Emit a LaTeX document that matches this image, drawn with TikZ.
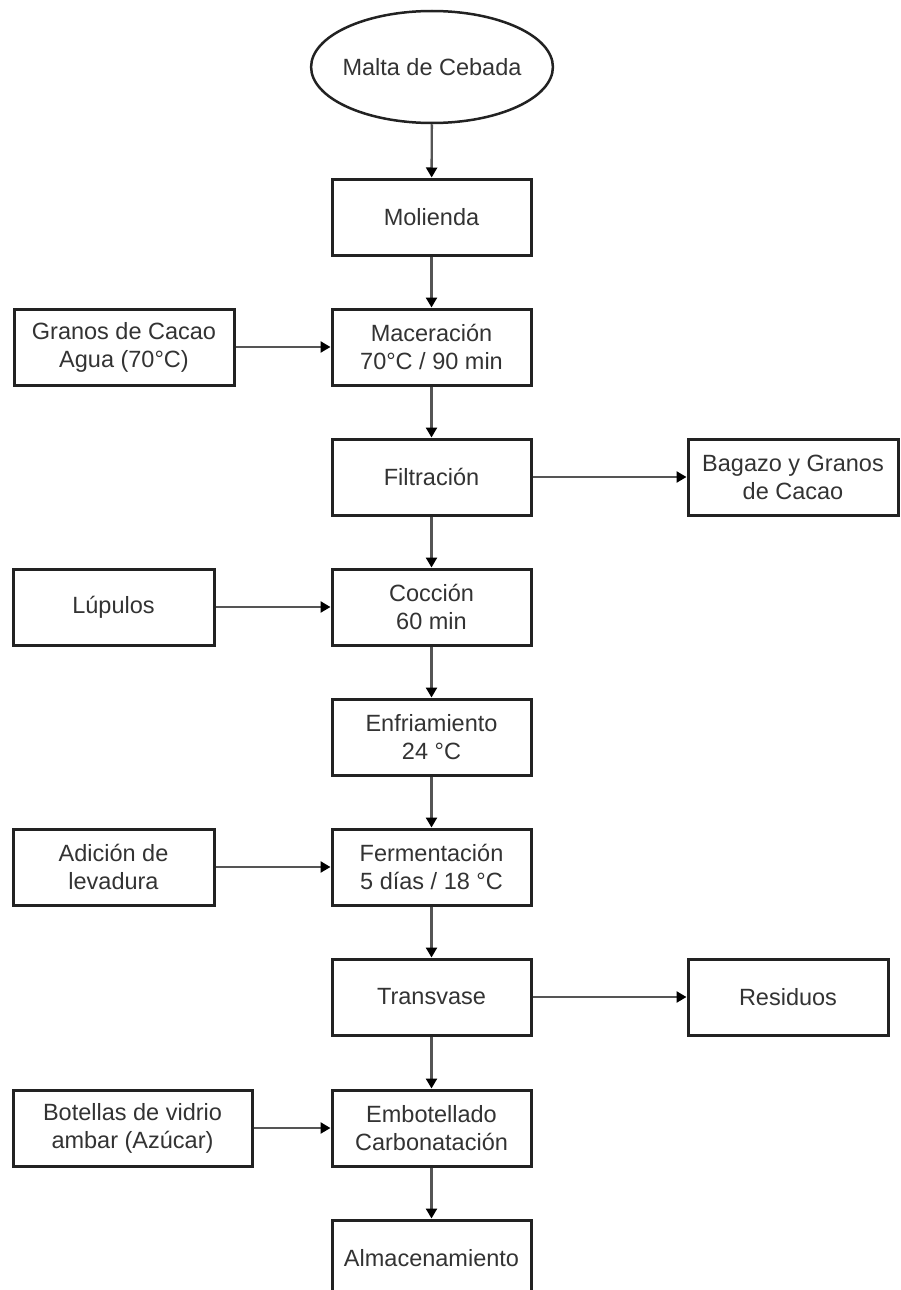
\documentclass[tikz,border=0pt]{standalone}
\usepackage{fontspec}
\setmainfont{Liberation Sans}
\usetikzlibrary{arrows.meta,shapes.geometric}
\definecolor{boxline}{HTML}{222222}
\definecolor{conn}{HTML}{555555}
\definecolor{txt}{HTML}{333333}
\begin{document}
\begin{tikzpicture}[x=1pt,y=-1pt,
  every node/.style={font=\fontsize{23.5}{28}\selectfont, text=txt, align=center, inner sep=0pt},
  proc/.style={draw=boxline, line width=3pt, rectangle, minimum height=76pt},
  mainbox/.style={proc, minimum width=199pt},
  startnode/.style={draw=boxline, line width=2.5pt, ellipse, inner xsep=-4pt, minimum width=238pt, minimum height=112pt},
  conn/.style={draw=conn, line width=2.4pt, -{Triangle[length=10pt,width=11pt,color=black]}}
]
\useasboundingbox (0,0) rectangle (900,1290);
\fill[white] (0,0) rectangle (900,1290);

\node[startnode] (malta) at (432,67) {Malta de Cebada};
\node[mainbox] (molienda) at (431.5,217) {Molienda};
\node[mainbox] (maceracion) at (431.5,347) {Maceración\\70°C / 90 min};
\node[mainbox] (filtracion) at (431.5,477) {Filtración};
\node[mainbox] (coccion) at (431.5,607) {Cocción\\60 min};
\node[mainbox] (enfriamiento) at (431.5,737) {Enfriamiento\\24 °C};
\node[mainbox] (fermentacion) at (431.5,867) {Fermentación\\5 días / 18 °C};
\node[mainbox] (transvase) at (431.5,997) {Transvase};
\node[mainbox] (embotellado) at (431.5,1128) {Embotellado\\Carbonatación};
\node[mainbox] (almacenamiento) at (431.5,1258) {Almacenamiento};

\node[proc, minimum width=220pt] (granos) at (124,347) {Granos de Cacao\\Agua (70°C)};
\node[proc, minimum width=201pt] (lupulos) at (113.5,607) {Lúpulos};
\node[proc, minimum width=201pt] (adicion) at (113.5,867) {Adición de\\levadura};
\node[proc, minimum width=239pt] (botellas) at (132.5,1128) {Botellas de vidrio\\ambar (Azúcar)};
\node[proc, minimum width=210pt] (bagazo) at (793,477) {Bagazo y Granos\\de Cacao};
\node[proc, minimum width=200pt] (residuos) at (788,997) {Residuos};

\draw[conn] (malta) -- (molienda);
\draw[conn] (molienda) -- (maceracion);
\draw[conn] (maceracion) -- (filtracion);
\draw[conn] (filtracion) -- (coccion);
\draw[conn] (coccion) -- (enfriamiento);
\draw[conn] (enfriamiento) -- (fermentacion);
\draw[conn] (fermentacion) -- (transvase);
\draw[conn] (transvase) -- (embotellado);
\draw[conn] (embotellado) -- (almacenamiento);

\draw[conn] (granos) -- (maceracion);
\draw[conn] (lupulos) -- (coccion);
\draw[conn] (adicion) -- (fermentacion);
\draw[conn] (botellas) -- (embotellado);
\draw[conn] (filtracion) -- (bagazo);
\draw[conn] (transvase) -- (residuos);
\end{tikzpicture}
\end{document}
